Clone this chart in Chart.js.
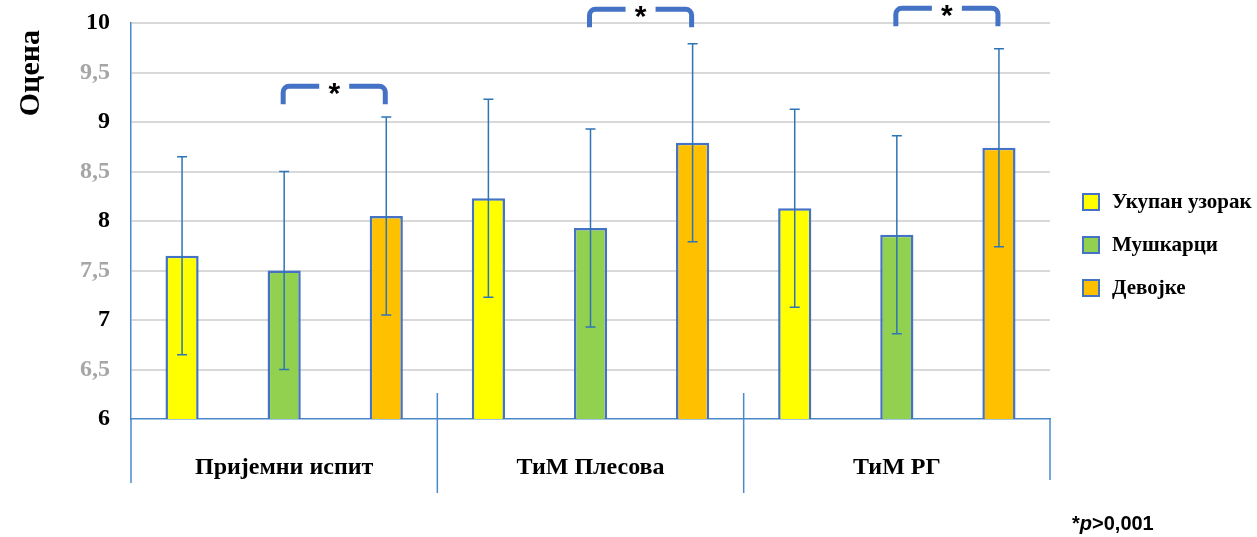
<!DOCTYPE html>
<html>
<head>
<meta charset="utf-8">
<title>Оцена</title>
<script src="https://cdn.jsdelivr.net/npm/chart.js"></script>
<style>
  body { margin: 0; background: #fff; }
  #wrap { position: relative; width: 1257px; height: 537px; }
  #legend { position: absolute; left: 1082px; top: 180px; font: bold 21px "Liberation Serif", serif; color: #000; }
  .item { display: flex; align-items: center; height: 43px; white-space: nowrap; }
  .box { width: 14px; height: 14px; border: 2px solid #4472c4; margin-right: 12px; }
  #note { position: absolute; left: 1072px; top: 512px; font: bold 20px "Liberation Sans", sans-serif; color: #000; }
</style>
</head>
<body>
<div id="wrap">
  <canvas id="chart" width="1257" height="537"></canvas>
  <div id="legend"></div>
  <div id="note">*<i>p</i>&gt;0,001</div>
</div>
<script>
const categories = ['Пријемни испит', 'ТиМ Плесова', 'ТиМ РГ'];
const seriesNames = ['Укупан узорак', 'Мушкарци', 'Девојке'];
const totalMean = [7.65, 8.23, 8.13];
const maleMean = [7.50, 7.93, 7.86];
const femaleMean = [8.05, 8.79, 8.74];
const totalSd = [1.0, 1.0, 1.0];
const maleSd = [1.0, 1.0, 1.0];
const femaleSd = [1.0, 1.0, 1.0];
// significance brackets: category, first and second series, bracket level on y
const sigCategory = [0, 1, 2];
const sigFrom = [1, 1, 1];
const sigTo = [2, 2, 2];
const sigLevel = [9.36, 10.14, 10.15];
const yTicks = [6, 6.5, 7, 7.5, 8, 8.5, 9, 9.5, 10];
const yTitle = 'Оцена';

const axisBlue = '#4a89c8';
const sdList = [totalSd, maleSd, femaleSd];

const errorBars = {
    id: 'errorBars',
    afterDatasetsDraw(chart) {
        const ctx = chart.ctx;
        const y = chart.scales.y;
        ctx.save();
        ctx.strokeStyle = '#2e75b6';
        ctx.lineWidth = 1.5;
        chart.data.datasets.forEach((ds, di) => {
            chart.getDatasetMeta(di).data.forEach((bar, i) => {
                const top = y.getPixelForValue(ds.data[i] + sdList[di][i]);
                const bot = y.getPixelForValue(ds.data[i] - sdList[di][i]);
                ctx.beginPath();
                ctx.moveTo(bar.x, top); ctx.lineTo(bar.x, bot);
                ctx.moveTo(bar.x - 5, top); ctx.lineTo(bar.x + 5, top);
                ctx.moveTo(bar.x - 5, bot); ctx.lineTo(bar.x + 5, bot);
                ctx.stroke();
            });
        });
        ctx.restore();
    }
};

const decorations = {
    id: 'decorations',
    afterDraw(chart) {
        const ctx = chart.ctx;
        const x = chart.scales.x;
        const y = chart.scales.y;
        const area = chart.chartArea;
        ctx.save();
        // category separators below the axis
        ctx.strokeStyle = axisBlue;
        ctx.lineWidth = 1.5;
        ctx.beginPath();
        ctx.moveTo(area.left, area.bottom); ctx.lineTo(area.left, area.bottom + 64);
        ctx.moveTo(area.right, area.bottom); ctx.lineTo(area.right, area.bottom + 61);
        for (let i = 0; i < categories.length - 1; i++) {
            const bx = (x.getPixelForValue(i) + x.getPixelForValue(i + 1)) / 2;
            ctx.moveTo(bx, area.bottom - 26); ctx.lineTo(bx, area.bottom + 74);
        }
        ctx.stroke();

        // significance brackets
        sigCategory.forEach((c, k) => {
            const x1 = chart.getDatasetMeta(sigFrom[k]).data[c].x - 1;
            const x2 = chart.getDatasetMeta(sigTo[k]).data[c].x - 1;
            const ty = y.getPixelForValue(sigLevel[k]);
            const leg = 18, r = 6, gap = 15;
            const mid = (x1 + x2) / 2;
            ctx.strokeStyle = '#4472c4';
            ctx.lineWidth = 5;
            ctx.beginPath();
            ctx.moveTo(x1, ty + leg);
            ctx.arcTo(x1, ty, x1 + r, ty, r);
            ctx.lineTo(mid - gap, ty);
            ctx.moveTo(mid + gap, ty);
            ctx.arcTo(x2, ty, x2, ty + r, r);
            ctx.lineTo(x2, ty + leg);
            ctx.stroke();
            ctx.fillStyle = '#000';
            ctx.font = 'bold 30px "Liberation Sans", sans-serif';
            ctx.textAlign = 'center';
            ctx.textBaseline = 'alphabetic';
            ctx.fillText('*', mid, ty + 17);
        });

        // rotated axis title, near the top of the axis
        ctx.translate(31, area.top + 7);
        ctx.rotate(-Math.PI / 2);
        ctx.fillStyle = '#000';
        ctx.font = 'bold 30px "Liberation Serif", serif';
        ctx.textAlign = 'right';
        ctx.textBaseline = 'middle';
        ctx.fillText(yTitle, 0, 0);
        ctx.restore();
    }
};

const colors = ['#ffff00', '#92d050', '#ffc000'];
const means = [totalMean, maleMean, femaleMean];

const chart = new Chart(document.getElementById('chart'), {
    type: 'bar',
    data: {
        labels: categories,
        datasets: seriesNames.map((name, i) => ({
            label: name,
            data: means[i],
            backgroundColor: colors[i],
            borderColor: '#4472c4',
            borderWidth: 2.5,
            borderSkipped: 'bottom',
            barPercentage: 0.325,
            categoryPercentage: 1
        }))
    },
    options: {
        responsive: false,
        animation: false,
        layout: { padding: { top: 23, right: 207, bottom: 0, left: 0 } },
        plugins: { legend: { display: false }, tooltip: { enabled: false } },
        scales: {
            x: {
                grid: { display: false },
                border: { color: axisBlue, width: 1.5 },
                ticks: {
                    color: '#000',
                    padding: 26,
                    font: { family: '"Liberation Serif", serif', size: 24, weight: 'bold' }
                },
                afterFit: s => { s.height = 118; }
            },
            y: {
                min: 6,
                max: 10,
                afterBuildTicks: s => { s.ticks = yTicks.map(v => ({ value: v })); },
                grid: {
                    color: c => c.tick && c.tick.value === 6 ? 'rgba(0,0,0,0)' : '#d9d9d9',
                    lineWidth: 2,
                    drawTicks: false
                },
                border: { color: axisBlue, width: 1.5 },
                ticks: {
                    padding: 21,
                    color: c => Number.isInteger(c.tick.value) ? '#000' : '#a6a6a6',
                    font: { family: '"Liberation Serif", serif', size: 24, weight: 'bold' },
                    callback: v => String(v).replace('.', ',')
                },
                afterFit: s => { s.width = 131; s.paddingTop = 0; s.paddingBottom = 0; }
            }
        }
    },
    plugins: [errorBars, decorations]
});

// legend built from the chart's datasets
const legendEl = document.getElementById('legend');
chart.data.datasets.forEach(ds => {
    const row = document.createElement('div');
    row.className = 'item';
    const box = document.createElement('span');
    box.className = 'box';
    box.style.background = ds.backgroundColor;
    const txt = document.createElement('span');
    txt.textContent = ds.label;
    row.appendChild(box);
    row.appendChild(txt);
    legendEl.appendChild(row);
});
</script>
</body>
</html>
